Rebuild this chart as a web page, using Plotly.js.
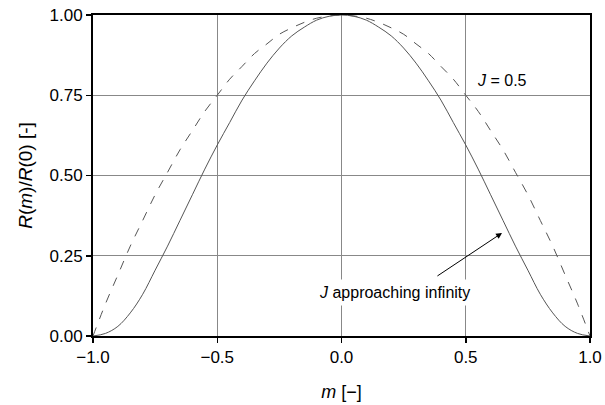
<!DOCTYPE html>
<html>
<head>
<meta charset="utf-8">
<script src="https://cdn.plot.ly/plotly-3.0.1.min.js"></script>
<style>html,body{margin:0;padding:0;background:#fff;}#chart{width:605px;height:405px;}</style>
</head>
<body>
<div id="chart"></div>
<script>
const m = [-1.0,-0.95,-0.9,-0.85,-0.8,-0.75,-0.7,-0.65,-0.6,-0.55,-0.5,-0.45,-0.4,-0.35,-0.3,-0.25,-0.2,-0.15,-0.1,-0.05,
           0.0,0.05,0.1,0.15,0.2,0.25,0.3,0.35,0.4,0.45,0.5,0.55,0.6,0.65,0.7,0.75,0.8,0.85,0.9,0.95,1.0];
const rInfinity = [0.0,0.008,0.03,0.072,0.13,0.205,0.28,0.36,0.44,0.52,0.595,0.665,0.735,0.795,0.85,0.897,0.935,0.962,0.984,0.996,
                   1.0,0.996,0.984,0.962,0.935,0.897,0.85,0.795,0.735,0.665,0.595,0.52,0.44,0.36,0.28,0.205,0.13,0.072,0.03,0.008,0.0];
const rHalf = [0.0,0.10,0.19,0.28,0.36,0.44,0.51,0.58,0.64,0.70,0.75,0.80,0.84,0.88,0.91,0.94,0.96,0.977,0.99,0.997,
               1.0,0.997,0.99,0.977,0.96,0.94,0.91,0.88,0.84,0.80,0.75,0.70,0.64,0.58,0.51,0.44,0.36,0.28,0.19,0.10,0.0];
const xTicks = [-1.0,-0.5,0.0,0.5,1.0];
const yTicks = [0.0,0.25,0.5,0.75,1.0];

const fam = '"Liberation Sans", Arial, sans-serif';

const traces = [
  {x: m, y: rHalf, mode: 'lines', line: {color: '#555', width: 1, dash: 'dash', shape: 'spline'}, hoverinfo: 'skip'},
  {x: m, y: rInfinity, mode: 'lines', line: {color: '#555', width: 1, shape: 'spline'}, hoverinfo: 'skip'}
];

const layout = {
  width: 605, height: 405,
  margin: {l: 93, r: 15, t: 15, b: 69},
  paper_bgcolor: '#fff', plot_bgcolor: '#fff',
  showlegend: false,
  font: {family: fam, size: 17, color: '#000'},
  xaxis: {
    range: [-1, 1], tickvals: xTicks, tickformat: '.1f',
    showline: true, linecolor: '#000', linewidth: 2, mirror: true,
    ticks: 'outside', ticklen: 5, tickwidth: 1.5, tickcolor: '#000',
    showgrid: true, gridcolor: '#888', gridwidth: 1, zeroline: false,
    tickfont: {family: fam, size: 17},
    title: {text: '<i>m</i> [−]', font: {family: fam, size: 18}, standoff: 19}
  },
  yaxis: {
    range: [0, 1], tickvals: yTicks, tickformat: '.2f',
    showline: true, linecolor: '#000', linewidth: 2, mirror: true,
    ticks: 'outside', ticklen: 5, tickwidth: 1.5, tickcolor: '#000',
    showgrid: true, gridcolor: '#888', gridwidth: 1, zeroline: false,
    tickfont: {family: fam, size: 17},
    title: {text: '<i>R</i>(<i>m</i>)/<i>R</i>(0) [-]', font: {family: fam, size: 19}, standoff: 12}
  },
  annotations: [
    {x: 0.646, y: 0.797, xref: 'x', yref: 'y', text: '<i>J</i> = 0.5', showarrow: false, font: {family: fam, size: 16}, bgcolor: '#fff'},
    {x: 0.213, y: 0.137, xref: 'x', yref: 'y', text: '<i>J</i> approaching infinity', showarrow: false, font: {family: fam, size: 16}, bgcolor: '#fff', borderpad: 4},
    {x: 0.646, y: 0.321, xref: 'x', yref: 'y', ax: 0.380, ay: 0.184, axref: 'x', ayref: 'y', text: '', showarrow: true, arrowhead: 2, arrowsize: 1.2, arrowwidth: 1, arrowcolor: '#000'}
  ]
};

Plotly.newPlot('chart', traces, layout, {staticPlot: true, displayModeBar: false});
</script>
</body>
</html>
